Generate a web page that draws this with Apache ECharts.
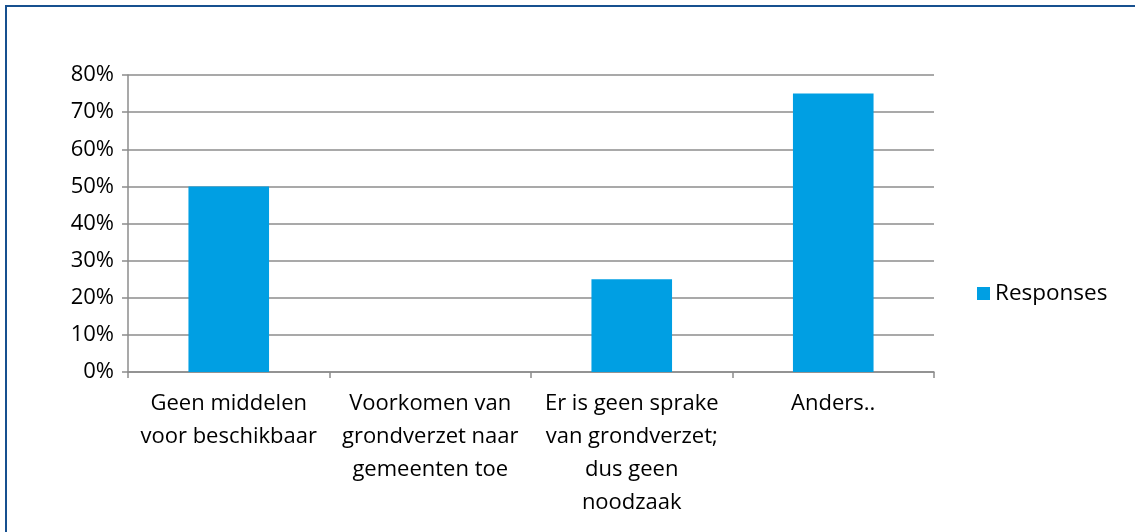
<!DOCTYPE html>
<html>
<head>
<meta charset="utf-8">
<script src="https://cdn.jsdelivr.net/npm/echarts@6/dist/echarts.min.js"></script>
<style>
  html, body { margin: 0; padding: 0; background: #fff; }
  #wrap { position: relative; width: 1135px; height: 532px; }
  #chart { width: 1135px; height: 532px; }
  /* donkerblauwe rand links en boven */
  #frame {
    position: absolute; left: 5px; top: 5px; right: 0; bottom: 0;
    border-top: 2px solid #17508f; border-left: 2px solid #17508f;
    pointer-events: none;
  }
</style>
</head>
<body>
<div id="wrap">
  <div id="chart"></div>
  <div id="frame"></div>
</div>
<script>
const categories = [
  'Geen middelen\nvoor beschikbaar',
  'Voorkomen van\ngrondverzet naar\ngemeenten toe',
  'Er is geen sprake\nvan grondverzet;\ndus geen\nnoodzaak',
  'Anders..'
];
const responses = [0.50, 0, 0.25, 0.75];
const seriesName = 'Responses';

const font = '"Open Sans", Lato, sans-serif';

const option = {
  animation: false,
  grid: { left: 128, right: 201, top: 75, bottom: 160 },
  legend: {
    data: [seriesName],
    left: 972,
    top: 277,
    icon: 'rect',
    itemWidth: 13,
    itemHeight: 13,
    itemGap: 6,
    textStyle: { fontFamily: font, fontSize: 22.5, color: '#000' }
  },
  xAxis: {
    type: 'category',
    data: categories,
    axisLine: { lineStyle: { color: '#8c8c8c', width: 1.5 } },
    axisTick: { show: true, length: 6, lineStyle: { color: '#8c8c8c', width: 1.5 } },
    axisLabel: {
      interval: 0,
      margin: 15,
      color: '#000',
      fontFamily: font,
      fontSize: 22,
      lineHeight: 33
    }
  },
  yAxis: {
    type: 'value',
    min: 0,
    max: 0.8,
    interval: 0.1,
    axisLine: { show: true, lineStyle: { color: '#8c8c8c', width: 1.5 } },
    axisTick: { show: true, length: 6, lineStyle: { color: '#8c8c8c', width: 1.5 } },
    splitLine: { lineStyle: { color: '#8c8c8c', width: 1.5 } },
    axisLabel: {
      margin: 14,
      color: '#000',
      fontFamily: font,
      fontSize: 22,
      formatter: v => Math.round(v * 100) + '%'
    }
  },
  series: [
    {
      name: seriesName,
      type: 'bar',
      data: responses,
      barWidth: '40%',
      itemStyle: { color: '#009fe3' }
    }
  ]
};

const myChart = echarts.init(document.getElementById('chart'), null, { renderer: 'canvas' });
myChart.setOption(option);
</script>
</body>
</html>
